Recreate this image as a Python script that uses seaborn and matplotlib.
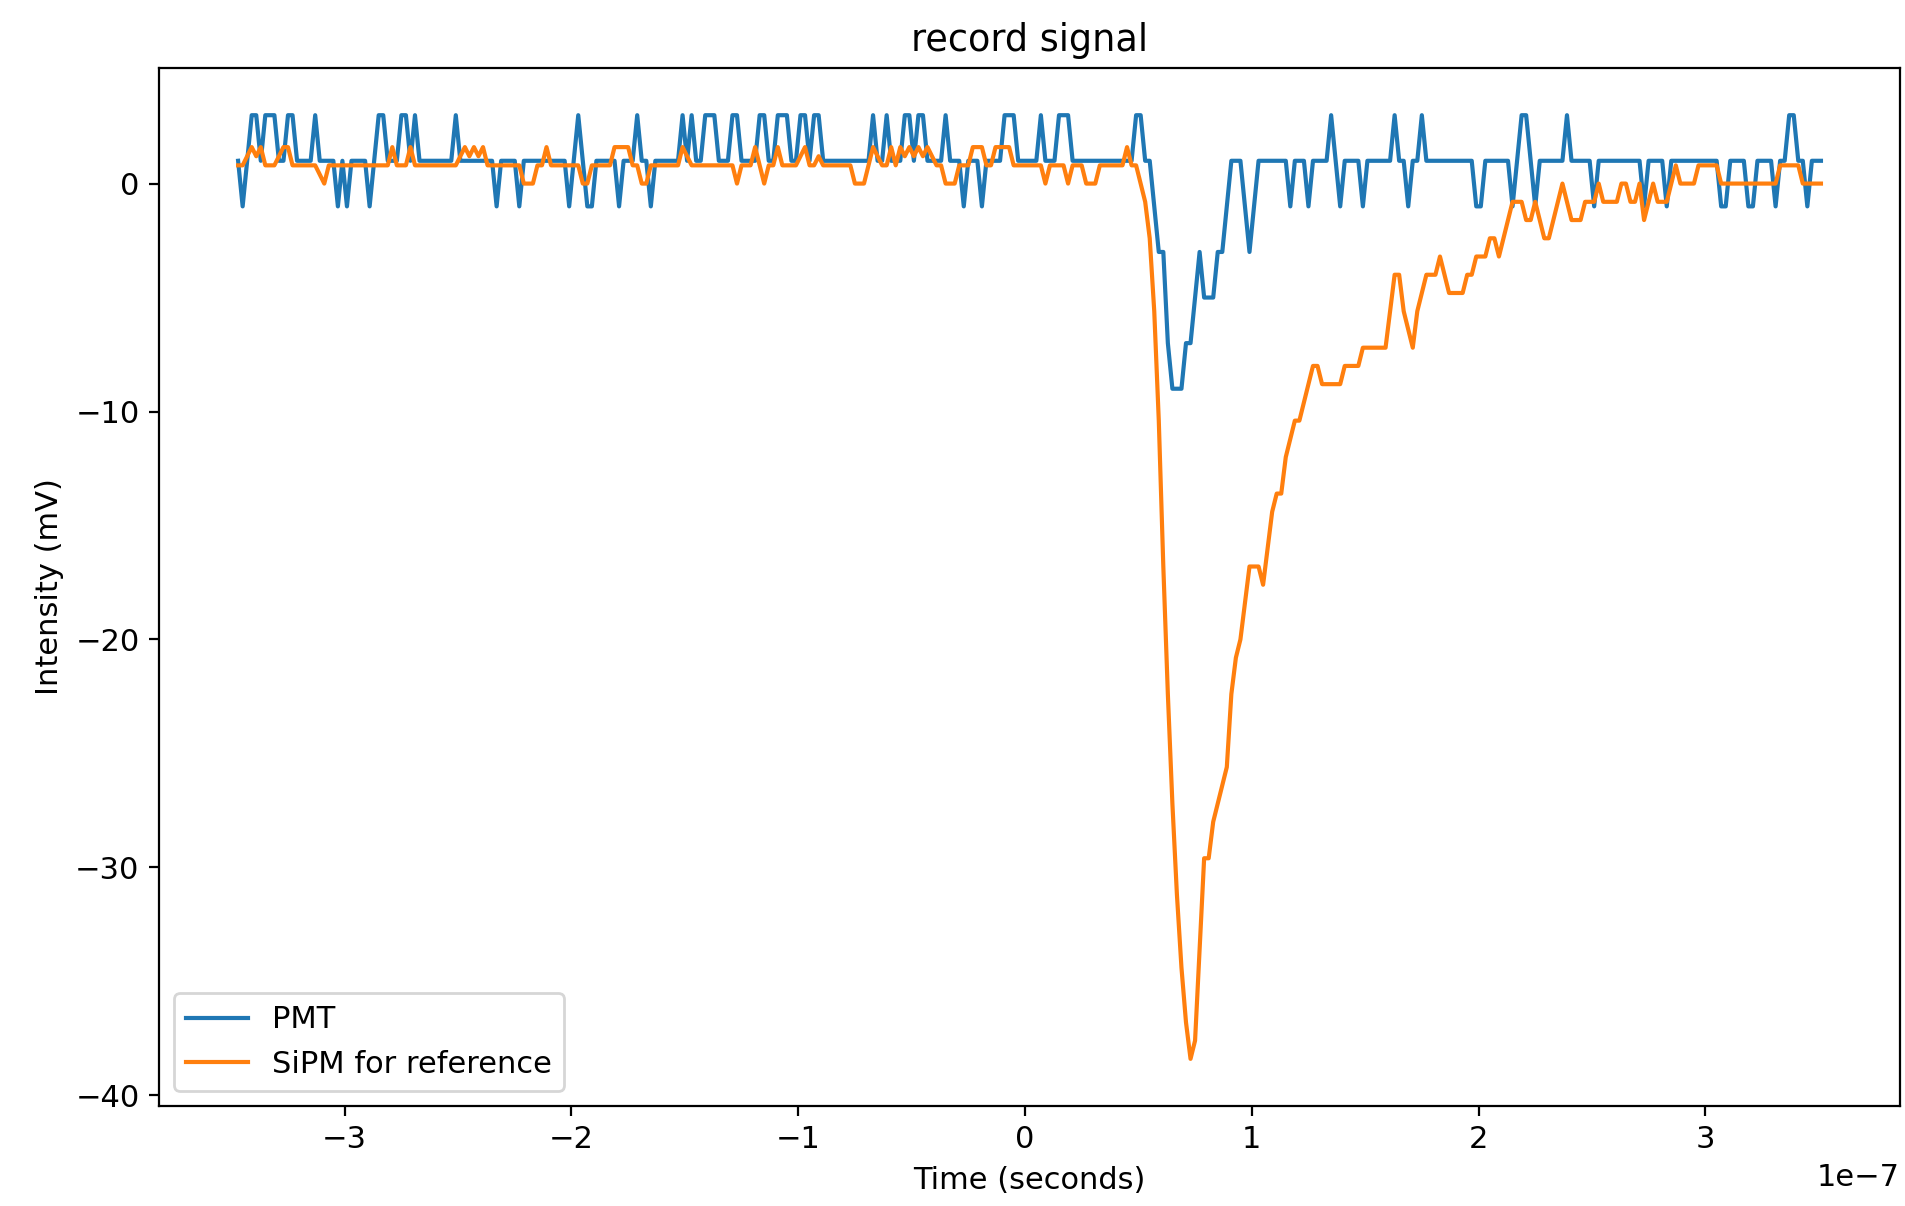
import numpy as np
import pandas as pd
import matplotlib
matplotlib.use("Agg")
import matplotlib.pyplot as plt
import seaborn as sns

# Sampling of the recorded waveform
t_start = -3.47e-7   # seconds
dt = 2e-9            # seconds per sample

pmt_mv = [
    1, -1, 1, 3, 3, 1, 3, 3, 3, 1,
    1, 3, 3, 1, 1, 1, 1, 3, 1, 1,
    1, 1, -1, 1, -1, 1, 1, 1, 1, -1,
    1, 3, 3, 1, 1, 1, 3, 3, 1, 3,
    1, 1, 1, 1, 1, 1, 1, 1, 3, 1,
    1, 1, 1, 1, 1, 1, 1, -1, 1, 1,
    1, 1, -1, 1, 1, 1, 1, 1, 1, 1,
    1, 1, 1, -1, 1, 3, 1, -1, -1, 1,
    1, 1, 1, 1, -1, 1, 1, 1, 3, 1,
    1, -1, 1, 1, 1, 1, 1, 1, 3, 1,
    3, 1, 1, 3, 3, 3, 1, 1, 1, 3,
    3, 1, 1, 1, 1, 3, 3, 1, 1, 3,
    3, 3, 1, 1, 3, 3, 1, 3, 3, 1,
    1, 1, 1, 1, 1, 1, 1, 1, 1, 1,
    3, 1, 1, 3, 1, 1, 1, 3, 3, 1,
    3, 3, 1, 1, 1, 1, 3, 1, 1, 1,
    -1, 1, 1, 1, -1, 1, 1, 1, 1, 3,
    3, 3, 1, 1, 1, 1, 1, 3, 1, 1,
    1, 3, 3, 3, 1, 1, 1, 1, 1, 1,
    1, 1, 1, 1, 1, 1, 1, 1, 3, 3,
    1, 1, -1, -3, -3, -7, -9, -9, -9, -7,
    -7, -5, -3, -5, -5, -5, -3, -3, -1, 1,
    1, 1, -1, -3, -1, 1, 1, 1, 1, 1,
    1, 1, -1, 1, 1, 1, -1, 1, 1, 1,
    1, 3, 1, -1, 1, 1, 1, 1, -1, 1,
    1, 1, 1, 1, 1, 3, 1, 1, -1, 1,
    1, 3, 1, 1, 1, 1, 1, 1, 1, 1,
    1, 1, 1, -1, -1, 1, 1, 1, 1, 1,
    1, -1, 1, 3, 3, 1, -1, 1, 1, 1,
    1, 1, 1, 3, 1, 1, 1, 1, 1, -1,
    1, 1, 1, 1, 1, 1, 1, 1, 1, 1,
    -1, 1, 1, 1, 1, -1, 1, 1, 1, 1,
    1, 1, 1, 1, 1, 1, 1, -1, -1, 1,
    1, 1, 1, -1, -1, 1, 1, 1, 1, -1,
    1, 1, 3, 3, 1, 1, -1, 1, 1, 1,
]

sipm_mv = [
    0.8, 0.8, 1.2, 1.6, 1.2, 1.6, 0.8, 0.8, 0.8, 1.2,
    1.6, 1.6, 0.8, 0.8, 0.8, 0.8, 0.8, 0.8, 0.4, 0.0,
    0.8, 0.8, 0.8, 0.8, 0.8, 0.8, 0.8, 0.8, 0.8, 0.8,
    0.8, 0.8, 0.8, 0.8, 1.6, 0.8, 0.8, 0.8, 1.6, 0.8,
    0.8, 0.8, 0.8, 0.8, 0.8, 0.8, 0.8, 0.8, 0.8, 1.2,
    1.6, 1.2, 1.6, 1.2, 1.6, 0.8, 0.8, 0.8, 0.8, 0.8,
    0.8, 0.8, 0.8, 0.0, 0.0, 0.0, 0.8, 0.8, 1.6, 0.8,
    0.8, 0.8, 0.8, 0.8, 0.8, 0.8, 0.0, 0.0, 0.8, 0.8,
    0.8, 0.8, 0.8, 1.6, 1.6, 1.6, 1.6, 0.8, 0.8, 0.0,
    0.0, 0.8, 0.8, 0.8, 0.8, 0.8, 0.8, 0.8, 1.6, 1.2,
    0.8, 0.8, 0.8, 0.8, 0.8, 0.8, 0.8, 0.8, 0.8, 0.8,
    0.0, 0.8, 0.8, 0.8, 1.6, 0.8, 0.0, 0.8, 0.8, 1.6,
    0.8, 0.8, 0.8, 0.8, 1.2, 1.6, 0.8, 0.8, 1.2, 0.8,
    0.8, 0.8, 0.8, 0.8, 0.8, 0.8, 0.0, 0.0, 0.0, 0.8,
    1.6, 1.2, 0.8, 0.8, 1.6, 0.8, 1.6, 1.2, 1.6, 1.2,
    1.6, 1.2, 1.6, 1.2, 0.8, 0.8, 0.0, 0.0, 0.0, 0.8,
    0.8, 0.8, 1.6, 1.6, 1.6, 0.8, 0.8, 1.6, 1.6, 1.6,
    1.6, 0.8, 0.8, 0.8, 0.8, 0.8, 0.8, 0.8, 0.0, 0.8,
    0.8, 0.8, 0.8, 0.0, 0.8, 0.8, 0.8, 0.0, 0.0, 0.0,
    0.8, 0.8, 0.8, 0.8, 0.8, 0.8, 1.6, 0.8, 0.8, 0.0,
    -0.8, -2.4, -5.6, -10.4, -16.8, -22.4, -27.2, -31.2, -34.4, -36.8,
    -38.4, -37.6, -33.6, -29.6, -29.6, -28.0, -27.2, -26.4, -25.6, -22.4,
    -20.8, -20.0, -18.4, -16.8, -16.8, -16.8, -17.6, -16.0, -14.4, -13.6,
    -13.6, -12.0, -11.2, -10.4, -10.4, -9.6, -8.8, -8.0, -8.0, -8.8,
    -8.8, -8.8, -8.8, -8.8, -8.0, -8.0, -8.0, -8.0, -7.2, -7.2,
    -7.2, -7.2, -7.2, -7.2, -5.6, -4.0, -4.0, -5.6, -6.4, -7.2,
    -5.6, -4.8, -4.0, -4.0, -4.0, -3.2, -4.0, -4.8, -4.8, -4.8,
    -4.8, -4.0, -4.0, -3.2, -3.2, -3.2, -2.4, -2.4, -3.2, -2.4,
    -1.6, -0.8, -0.8, -0.8, -1.6, -1.6, -0.8, -1.6, -2.4, -2.4,
    -1.6, -0.8, 0.0, -0.8, -1.6, -1.6, -1.6, -0.8, -0.8, -0.8,
    0.0, -0.8, -0.8, -0.8, -0.8, 0.0, 0.0, -0.8, -0.8, 0.0,
    -1.6, -0.8, 0.0, -0.8, -0.8, -0.8, 0.0, 0.8, 0.0, 0.0,
    0.0, 0.0, 0.8, 0.8, 0.8, 0.8, 0.8, 0.0, 0.0, 0.0,
    0.0, 0.0, 0.0, 0.0, 0.0, 0.0, 0.0, 0.0, 0.0, 0.0,
    0.8, 0.8, 0.8, 0.8, 0.8, 0.0, 0.0, 0.0, 0.0, 0.0,
]

series_labels = ["PMT", "SiPM for reference"]
series_colors = ["#1f77b4", "#ff7f0e"]

plt.rcParams["font.size"] = 11

n = min(len(pmt_mv), len(sipm_mv))
time_s = t_start + dt * np.arange(n)

fig = plt.figure(figsize=(9.53, 6.03), dpi=200)
ax = fig.add_axes([0.0834, 0.0829, 0.9135, 0.8607])

for vals, lab, col in zip([pmt_mv, sipm_mv], series_labels, series_colors):
    sns.lineplot(x=time_s, y=np.asarray(vals[:n], dtype=float), ax=ax,
                 label=lab, color=col, linewidth=1.5, errorbar=None)

ax.set_title("record signal", fontsize=13.2)
ax.set_xlabel("Time (seconds)")
ax.set_ylabel("Intensity (mV)")
ax.set_yticks([0, -10, -20, -30, -40])
ax.legend(loc="lower left")

fig.savefig("out.png", dpi=200)
